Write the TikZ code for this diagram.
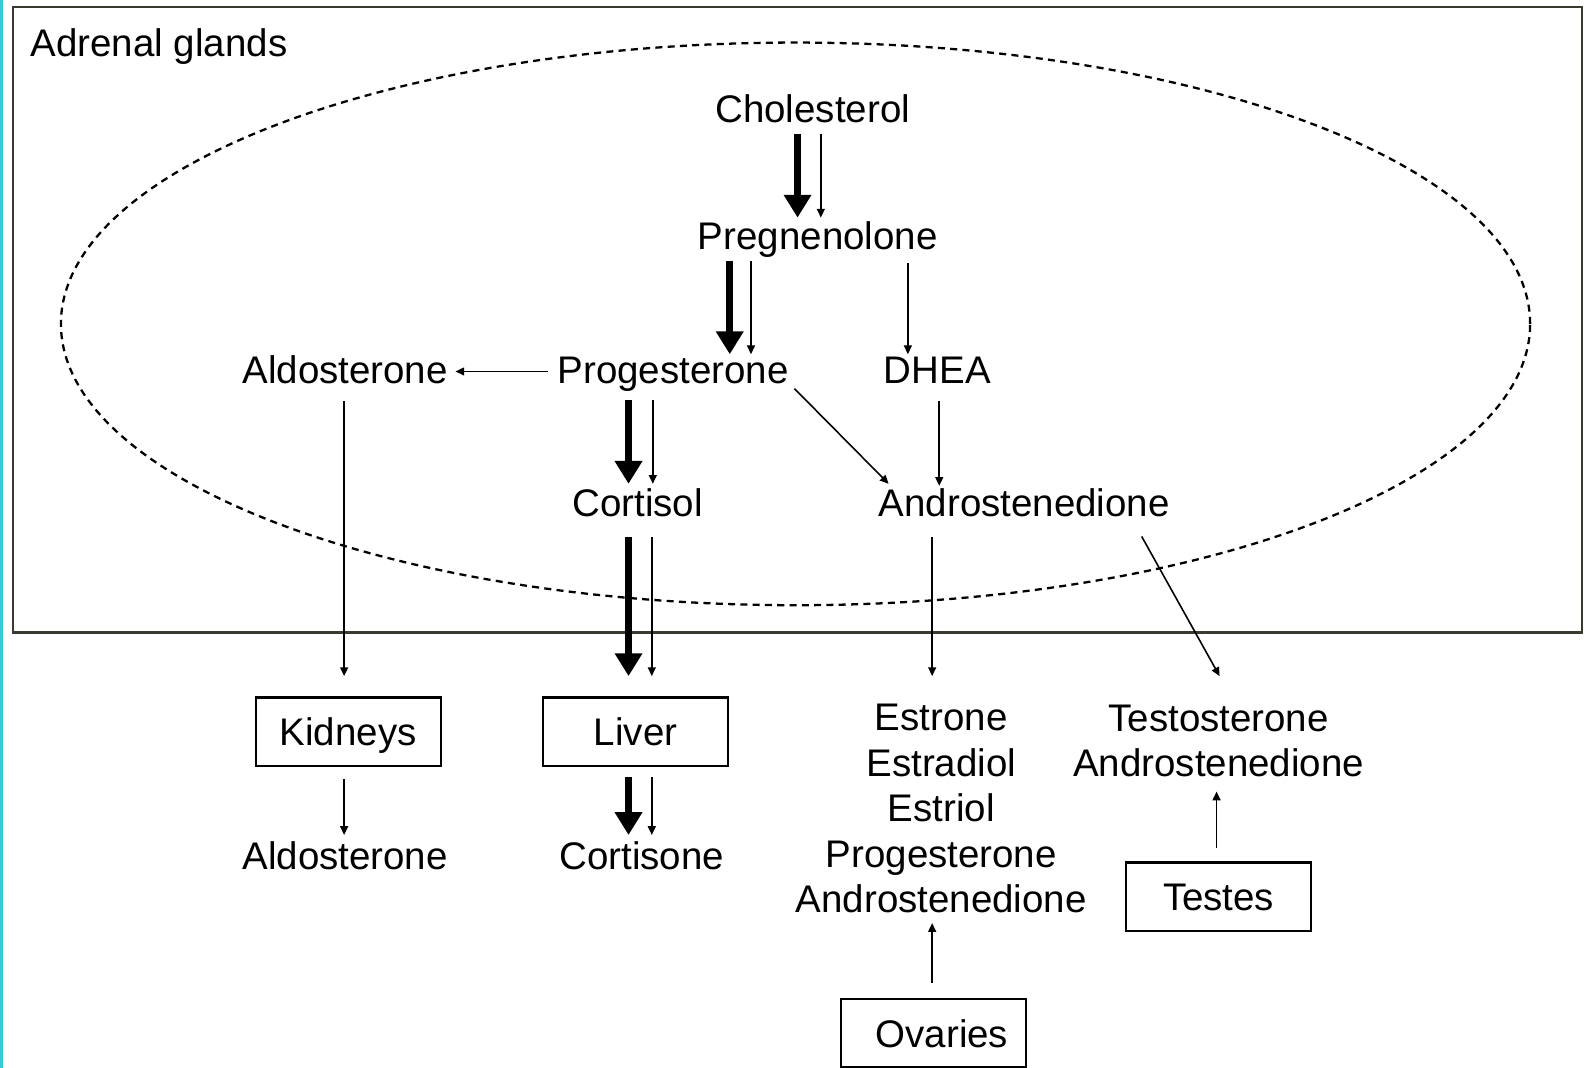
\documentclass[tikz,border=0pt]{standalone}
\usepackage{fontspec}
\setmainfont{Liberation Sans}
\usetikzlibrary{arrows.meta, calc, shapes}

\definecolor{framegray}{RGB}{58,58,48}
\definecolor{edgecyan}{RGB}{52,204,212}

\tikzset{
	hormone/.style={inner sep=0pt, align=center, font=\fontsize{21.9}{25.9}\selectfont},
	word/.style={hormone, text height=15.8pt, text depth=0pt},
	organ/.style={draw, line width=1.3pt, inner sep=0pt, minimum width=3.70cm, minimum height=1.37cm, text height=15.8pt, text depth=0pt, font=\fontsize{21.9}{25.9}\selectfont},
	major/.style={line width=4.2pt, -{Triangle[width=15pt,length=13pt]}},
	minor/.style={line width=0.9pt, -{Triangle[width=4.5pt,length=5pt]}},
}

\begin{document}
\begin{tikzpicture}[x=0.020243cm, y=-0.020243cm]
		\useasboundingbox (0,0) rectangle (1568,1055);
		\fill[edgecyan] (0,0) rectangle (3,1055);
		\draw[framegray, line width=1.4pt] (13,7) rectangle (1563,625);
		\draw[line width=1.3pt, dash pattern=on 4pt off 3pt] (786,320) ellipse [x radius=14.696cm, y radius=5.628cm];
		\node[word, anchor=west] (adrenal) at (30,42) {Adrenal glands};

		\node[word] (chol) at (803,107) {Cholesterol};
		\node[word] (preg) at (808,233) {Pregnenolone};
		\node[word] (prog) at (665,365) {Progesterone};
		\node[word] (aldo) at (341,365) {Aldosterone};
		\node[word] (dhea) at (926,365) {DHEA};
		\node[word] (cort) at (630,497) {Cortisol};
		\node[word] (andro) at (1012,497) {Androstenedione};

		\node[organ] (kid) at (344,723) {Kidneys};
		\node[organ] (liver) at (628,723) {Liver};
		\node[organ] (testes) at (1204,886) {Testes};
		\node[organ] (ovar) at (922,1021) {\hspace{10pt}Ovaries};

		\node[word] (aldoout) at (341,845) {Aldosterone};
		\node[word] (cortis) at (634,845) {Cortisone};
		\node[hormone] (estr) at (930,799) {Estrone\\Estradiol\\Estriol\\Progesterone\\Androstenedione};
		\node[hormone] (testo) at (1204,732) {Testosterone\\Androstenedione};

		\draw[major] ($(chol)+(-15,25)$) -- ($(preg)+(-20,-18)$);
		\draw[minor] ($(chol)+(8,25)$) -- ($(preg)+(3,-18)$);
		\draw[major] ($(preg)+(-87,25)$) -- ($(prog)+(56,-15)$);
		\draw[minor] ($(preg)+(-66,25)$) -- ($(prog)+(77,-15)$);
		\draw[minor] ($(preg)+(89,27)$) -- ($(dhea)+(-29,-15)$);
		\draw[minor] ($(prog)+(-124,2)$) -- ($(aldo)+(109,2)$);
		\draw[minor] ($(prog)+(120,19)$) -- ($(andro)+(-134,-19)$);
		\draw[minor] ($(dhea)+(2,31)$) -- ($(andro)+(-84,-17)$);
		\draw[major] ($(prog)+(-44,30)$) -- ($(cort)+(-9,-19)$);
		\draw[minor] ($(prog)+(-20,30)$) -- ($(cort)+(15,-19)$);
		\draw[major] ($(cort)+(-9,34)$) -- ($(liver)+(-7,-55)$);
		\draw[minor] ($(cort)+(14,34)$) -- ($(liver)+(16,-55)$);
		\draw[minor] ($(aldo)+(-1,31)$) -- ($(kid)+(-4,-55)$);
		\draw[minor] ($(andro)+(-91,34)$) -- ($(estr)+(-9,-131)$);
		\draw[minor] ($(andro)+(116,33)$) -- ($(testo)+(1,-64)$);
		\draw[minor] ($(kid)+(-4,47)$) -- ($(aldoout)+(-1,-20)$);
		\draw[major] ($(liver)+(-7,45)$) -- ($(cortis)+(-13,-20)$);
		\draw[minor] ($(liver)+(16,45)$) -- ($(cortis)+(10,-20)$);
		\draw[minor] ($(ovar)+(-1,-50)$) -- ($(estr)+(-9,113)$);
		\draw[minor] ($(testes)+(-2,-48)$) -- ($(testo)+(-2,50)$);
\end{tikzpicture}
\end{document}
